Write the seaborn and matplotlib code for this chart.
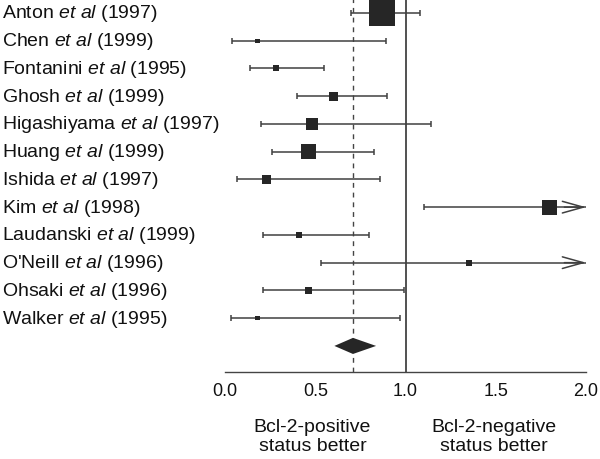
import numpy as np
import pandas as pd
import matplotlib
matplotlib.use("Agg")
import matplotlib.pyplot as plt
import matplotlib.transforms as mtransforms
import seaborn as sns

# ---- data ----
authors = ["Anton", "Chen", "Fontanini", "Ghosh", "Higashiyama", "Huang",
           "Ishida", "Kim", "Laudanski", "O'Neill", "Ohsaki", "Walker"]
years = [1997, 1999, 1995, 1999, 1997, 1999, 1997, 1998, 1999, 1996, 1996, 1995]
estimate = [0.87, 0.18, 0.28, 0.60, 0.48, 0.46, 0.23, 1.80, 0.41, 1.35, 0.46, 0.18]
ci_low = [0.70, 0.04, 0.14, 0.40, 0.20, 0.26, 0.065, 1.10, 0.21, 0.53, 0.21, 0.035]
ci_high = [1.08, 0.89, 0.55, 0.90, 1.14, 0.825, 0.86, 2.95, 0.80, 3.45, 0.99, 0.97]
weight = [41.5, 1.0, 2.2, 5.0, 8.8, 13.8, 5.5, 13.8, 2.2, 2.2, 3.0, 1.0]
pooled, pooled_low, pooled_high = 0.709, 0.606, 0.837
x_ticks = [0.0, 0.5, 1.0, 1.5, 2.0]
left_note = "Bcl-2-positive\nstatus better"
right_note = "Bcl-2-negative\nstatus better"

sns.set_style("white")
plt.rcParams["font.family"] = ["Liberation Sans", "DejaVu Sans"]
plt.rcParams["mathtext.fontset"] = "custom"
plt.rcParams["mathtext.rm"] = "Liberation Sans"
plt.rcParams["mathtext.it"] = "Liberation Sans:italic"

df = pd.DataFrame({"author": authors, "year": years, "est": estimate,
                   "lo": ci_low, "hi": ci_high, "w": weight})
df["row"] = np.arange(len(df))
n = len(df)
xmin, xmax = 0.0, 2.0

fig = plt.figure(figsize=(6, 4.6), dpi=100)
ax = fig.add_axes([0.375, 0.1891, 0.6017, 0.8109])

line_col = "#404040"
box_col = "#262626"
cap = 0.11

# reference lines
ax.axvline(1.0, color="#333333", lw=1.2, zorder=1)
ax.axvline(pooled, color="#444444", lw=1.0, ls=(0, (3.5, 3.5)), zorder=1)

# whiskers
hi_clip = np.minimum(df["hi"], xmax)
ax.hlines(df["row"], df["lo"], hi_clip, color=line_col, lw=1.1, zorder=2)
ax.vlines(df["lo"], df["row"] - cap, df["row"] + cap, color=line_col, lw=1.1, zorder=2)
inside = df["hi"] <= xmax
ax.vlines(df.loc[inside, "hi"], df.loc[inside, "row"] - cap,
          df.loc[inside, "row"] + cap, color=line_col, lw=1.1, zorder=2)
for r in df.loc[~inside, "row"]:
    ax.annotate("", xy=(xmax, r), xytext=(xmax - 0.12, r),
                arrowprops=dict(arrowstyle="->,head_length=1.5,head_width=0.42",
                                color=line_col, lw=1.1, shrinkA=0, shrinkB=0,
                                mutation_scale=10),
                annotation_clip=False, zorder=3)

# squares
sns.scatterplot(data=df, x="est", y="row", size="w", sizes=(0, 350),
                size_norm=(0, max(weight)), marker="s", color=box_col,
                linewidth=0, legend=False, ax=ax, zorder=4, clip_on=False)

# pooled diamond
yd = n
hh = 0.29
ax.fill([pooled_low, pooled, pooled_high, pooled],
        [yd, yd - hh, yd, yd + hh], color=box_col, lw=0, zorder=4)

ax.set_xlim(xmin, xmax)
ax.set_ylim(n + 0.94, -0.5)
ax.set_xticks(x_ticks)
ax.set_xticklabels([f"{t:.1f}" for t in x_ticks], fontsize=13)
ax.tick_params(axis="x", direction="inout", length=5, width=1, color="#444444",
               pad=4.5, labelcolor="#111111")
ax.set_yticks([])
ax.set_xlabel("")
ax.set_ylabel("")
for s in ["left", "top", "right"]:
    ax.spines[s].set_visible(False)
ax.spines["bottom"].set_color("#444444")
ax.spines["bottom"].set_linewidth(1.0)

# study labels
trans = mtransforms.blended_transform_factory(fig.transFigure, ax.transData)
for a, y, r in zip(authors, years, df["row"]):
    ax.text(0.003, r, f"{a} $\\it{{et\\ al}}$ ({y})", transform=trans,
            ha="left", va="center", fontsize=14, color="#111111")

# bottom notes
fig.text((225 + 0.485 * 180.5) / 600, 1 - 437 / 460, left_note, ha="center",
         va="center", fontsize=14, linespacing=1.2, color="#111111")
fig.text((225 + 1.49 * 180.5) / 600, 1 - 437 / 460, right_note, ha="center",
         va="center", fontsize=14, linespacing=1.2, color="#111111")

fig.savefig("out.png", dpi=100)
